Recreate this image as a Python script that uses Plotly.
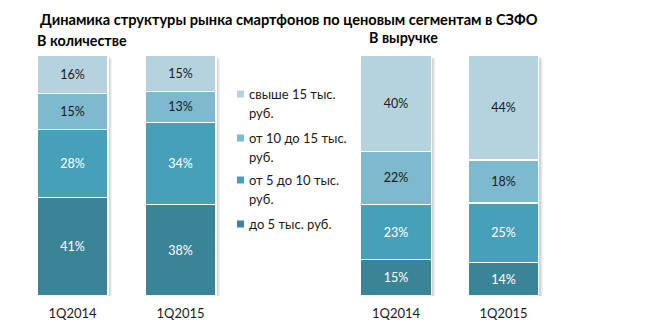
import plotly.graph_objects as go

W, H = 646, 332

title_text = "Динамика структуры рынка смартфонов по ценовым сегментам в СЗФО"
panel_titles = ["В количестве", "В выручке"]
periods = ["1Q2014", "1Q2015"]

segment_names = ["до 5 тыс. руб.", "от 5 до 10 тыс. руб.",
                 "от 10 до 15 тыс. руб.", "свыше 15 тыс. руб."]
legend_lines = [["свыше 15 тыс.", "руб."],
                ["от 10 до 15 тыс.", "руб."],
                ["от 5 до 10 тыс.", "руб."],
                ["до 5 тыс. руб."]]

# В количестве (share by units), %
qty_under5 = [41, 38]
qty_5_10 = [28, 34]
qty_10_15 = [15, 13]
qty_over15 = [16, 15]

# В выручке (share by revenue), %
rev_under5 = [15, 14]
rev_5_10 = [23, 25]
rev_10_15 = [22, 18]
rev_over15 = [40, 44]

colors = ["#3A8497", "#46A0B8", "#7EB9CE", "#B5D3DF"]
text_colors = ["white", "white", "#1a1a1a", "#1a1a1a"]
FONT = "Lato, 'Open Sans', sans-serif"

fig = go.Figure()

panels = [
    ("x", "y", [qty_under5, qty_5_10, qty_10_15, qty_over15]),
    ("x2", "y2", [rev_under5, rev_5_10, rev_10_15, rev_over15]),
]

for xa, ya, series in panels:
    for i, vals in enumerate(series):
        fig.add_trace(go.Bar(
            x=periods, y=vals, name=segment_names[i],
            xaxis=xa, yaxis=ya, showlegend=False,
            marker=dict(color=colors[i], line=dict(color="white", width=1.2)),
            text=[f"{v}%" for v in vals], textposition="inside",
            insidetextanchor="middle", textangle=0,
            textfont=dict(family=FONT, size=12.5, color=text_colors[i]),
            hovertemplate="%{x}: %{text}<extra>" + segment_names[i] + "</extra>",
        ))

bargap = 0.343
half = (1 - bargap) / 2
# soft shadows behind bars (right/bottom), positioned via the axes' own scales
shapes = []
for xa, ya, _ in panels:
    for k in range(len(periods)):
        for off, op in [(0.035, 0.10), (0.022, 0.16)]:
            shapes.append(dict(type="rect", xref=xa, yref=ya, layer="below",
                               x0=k - half + off, x1=k + half + off,
                               y0=-off * 45, y1=100 - off * 45,
                               fillcolor=f"rgba(90,90,90,{op})", line=dict(width=0)))

# legend (manual, to mimic wrapped Excel legend)
annotations = []
leg_x_sq0, leg_x_sq1 = 237 / W, 244 / W
leg_text_x = 247 / W
item_y = [94, 138, 180, 224]
for lines, cy, col in zip(legend_lines, item_y, colors[::-1]):
    shapes.append(dict(type="rect", xref="paper", yref="paper",
                       x0=leg_x_sq0, x1=leg_x_sq1,
                       y0=1 - (cy + 3.5) / H, y1=1 - (cy - 3.5) / H,
                       fillcolor=col, line=dict(width=0)))
    for j, ln in enumerate(lines):
        annotations.append(dict(text=ln, xref="paper", yref="paper",
                                x=leg_text_x, y=1 - (cy + 19 * j) / H,
                                xanchor="left", yanchor="middle", showarrow=False,
                                font=dict(family=FONT, size=13, color="#1a1a1a")))

annotations.append(dict(text=f"<b>{title_text}</b>", xref="paper", yref="paper",
                        x=38 / W, y=1 - 20 / H, xanchor="left", yanchor="middle",
                        showarrow=False, font=dict(family=FONT, size=14.6, color="black")))
annotations.append(dict(text=f"<b>{panel_titles[0]}</b>", xref="paper", yref="paper",
                        x=35 / W, y=1 - 41 / H, xanchor="left", yanchor="middle",
                        showarrow=False, font=dict(family=FONT, size=14.3, color="black")))
annotations.append(dict(text=f"<b>{panel_titles[1]}</b>", xref="paper", yref="paper",
                        x=367 / W, y=1 - 38 / H, xanchor="left", yanchor="middle",
                        showarrow=False, font=dict(family=FONT, size=14.3, color="black")))

y_dom = [1 - 296 / H, 1 - 55 / H]
xaxis_common = dict(type="category", showgrid=False, zeroline=False, showline=False,
                    ticks="outside", ticklen=5, tickcolor="rgba(0,0,0,0)",
                    tickfont=dict(family=FONT, size=13, color="#1a1a1a"),
                    range=[-0.5, 1.5], fixedrange=True)
yaxis_common = dict(range=[0, 100], visible=False, fixedrange=True)

fig.update_layout(
    width=W, height=H, margin=dict(l=0, r=0, t=0, b=0),
    paper_bgcolor="white", plot_bgcolor="rgba(0,0,0,0)",
    barmode="stack", barnorm="percent", bargap=bargap,
    xaxis=dict(domain=[18.5 / W, 234.5 / W], anchor="y", **xaxis_common),
    xaxis2=dict(domain=[342.25 / W, 557.25 / W], anchor="y2", **xaxis_common),
    yaxis=dict(domain=y_dom, anchor="x", **yaxis_common),
    yaxis2=dict(domain=y_dom, anchor="x2", **yaxis_common),
    shapes=shapes, annotations=annotations,
    font=dict(family=FONT),
    uniformtext=dict(minsize=12, mode="show"),
)

fig.write_html("out.html")
